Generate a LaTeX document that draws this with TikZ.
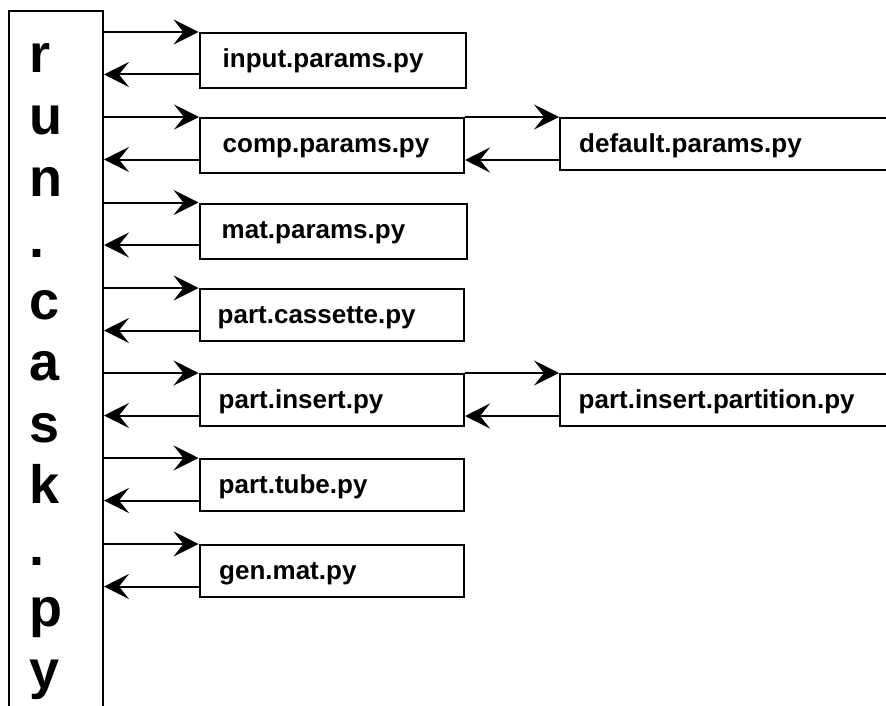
\documentclass[tikz,border=0pt]{standalone}
\usepackage{fontspec}
\setmainfont{Liberation Sans}
\usetikzlibrary{arrows.meta}
\begin{document}
\begin{tikzpicture}[x=1pt,y=-1pt,
  boxline/.style={draw=black, line width=2pt},
  arr/.style={draw=black, line width=2pt, -{Stealth[length=25pt,width=25pt,inset=10pt]}},
  lbl/.style={anchor=base west, inner sep=0pt, font=\fontsize{26}{30}\selectfont\bfseries},
  big/.style={anchor=base west, inner sep=0pt, font=\fontsize{54}{60}\selectfont\bfseries}]
\useasboundingbox (0,0) rectangle (886,706);
\clip (0,0) rectangle (886,706);
% left main box
\node[boxline, rectangle, inner sep=0pt, anchor=north west, minimum width=94.5pt, minimum height=712pt] (run) at (7.5,10) {};
\foreach \ch [count=\i from 0] in {r,u,n,.,c,a,s,k,.,p,y}
  \node[big] (c\i) at (29.5,{73+61.5*\i}) {\ch};
% main boxes: name / left / top / width / height / textx / text
\foreach \nm/\lx/\ty/\w/\h/\tx/\txt in {
   b1/198.5/32/266.5/55/222.5/input.params.py,
   b2/199/117/264/55/222.5/comp.params.py,
   b3/198.5/202.5/267.5/55.5/221.5/mat.params.py,
   b4/198.5/288/264.5/52/217.5/part.cassette.py,
   b5/198.5/373/264.5/52/218.5/part.insert.py,
   b6/198.5/458/264.5/52/218.5/part.tube.py,
   b7/198.5/544/264.5/52/219/gen.mat.py}
{
  \node[boxline, rectangle, inner sep=0pt, anchor=north west, minimum width=\w pt, minimum height=\h pt] (\nm) at (\lx,\ty) {};
  \node[lbl] (t\nm) at (\tx,{\ty+35.5}) {\txt};
  \coordinate (f\nm) at (\nm.north west);
  \coordinate (r\nm) at ([yshift=-42.5pt]\nm.north west);
  \draw[arr] (f\nm -| run.east) -- (f\nm);
  \draw[arr] (r\nm) -- (r\nm -| run.east);
}
% right boxes
\foreach \nm/\src/\ty/\tx/\txt in {
   d1/b2/117/579/default.params.py,
   d2/b5/373/578.5/part.insert.partition.py}
{
  \node[boxline, rectangle, inner sep=0pt, anchor=north west, minimum width=360pt, minimum height=52pt] (\nm) at (559,\ty) {};
  \node[lbl] (t\nm) at (\tx,{\ty+35.5}) {\txt};
  \coordinate (f\nm) at (\nm.north west);
  \coordinate (r\nm) at ([yshift=-43pt]\nm.north west);
  \draw[arr] (f\nm -| \src.east) -- (f\nm);
  \draw[arr] (r\nm) -- (r\nm -| \src.east);
}
\end{tikzpicture}
\end{document}
